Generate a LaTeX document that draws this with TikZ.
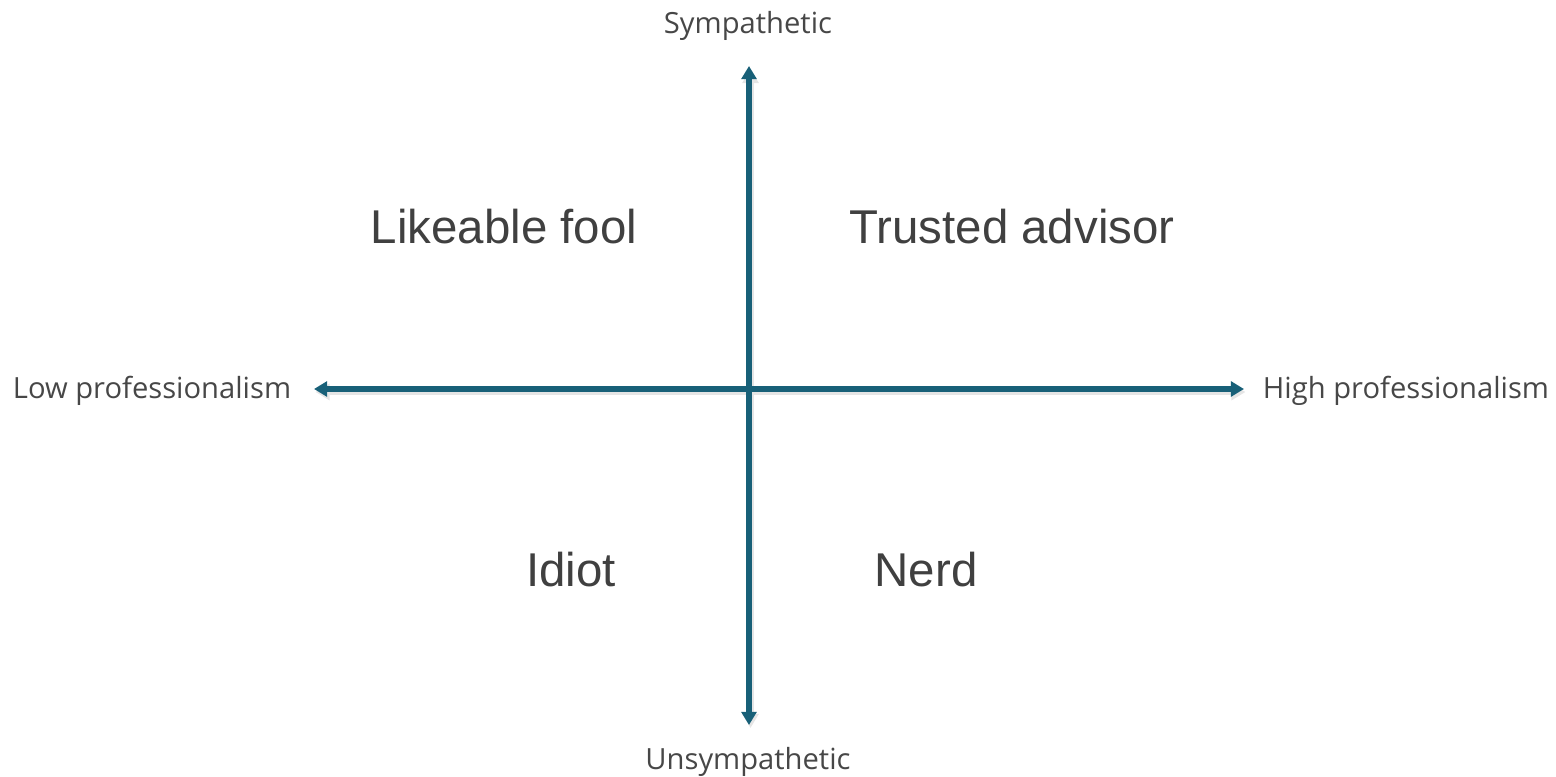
\documentclass[tikz,border=0pt]{standalone}
\usepackage{fontspec}
\setmainfont{Liberation Sans}
\newfontfamily\axisfont{Open Sans}
\usetikzlibrary{arrows.meta}
\definecolor{axisblue}{RGB}{24,96,120}
\definecolor{labelgray}{RGB}{64,64,64}
\tikzstyle{axis}=[
        draw=axisblue,
        line width=3pt,
        -{Triangle[width=8.5pt,length=7.5pt]}
]
\tikzstyle{axisshadow}=[
        draw=black!10,
        line width=3.6pt,
        -{Triangle[width=9pt,length=8pt]}
]
\tikzstyle{pole}=[
        font=\axisfont\fontsize{16.6}{18}\selectfont,
        text=black!72
]
\tikzstyle{quadrant}=[
        font=\fontsize{27}{30}\selectfont,
        text=labelgray
]

\begin{document}
\begin{tikzpicture}[x=0.02cm,y=-0.02cm]
                    \useasboundingbox (0,0) rectangle (1556,777);

                    \coordinate (centre) at (749,389);
                    \coordinate (top) at (749,66);
                    \coordinate (bottom) at (749,725);
                    \coordinate (left) at (314,389);
                    \coordinate (right) at (1244,389);

                    % shadows first
                    \foreach \a/\b in {centre/top,centre/bottom,centre/left,centre/right} {
                        \draw[axisshadow] ([shift={(1.5,3)}]\a) -- ([shift={(1.5,3)}]\b);
                    }
                    \foreach \a/\b in {centre/top,centre/bottom,centre/left,centre/right} {
                        \draw[axis] (\a) -- (\b);
                    }

                    \node[pole] (sym) at (748,26) {Sympathetic};
                    \node[pole] (unsym) at (748,762) {Unsympathetic};
                    \node[pole] (lowpro) at (152,391) {Low professionalism};
                    \node[pole] (highpro) at (1406,391) {High professionalism};

                    \node[quadrant] (fool) at (504,227) {Likeable fool};
                    \node[quadrant] (advisor) at (1012,227) {Trusted advisor};
                    \node[quadrant] (idiot) at (571,570) {Idiot};
                    \node[quadrant] (nerd) at (926,570) {Nerd};

                \end{tikzpicture}
\end{document}
